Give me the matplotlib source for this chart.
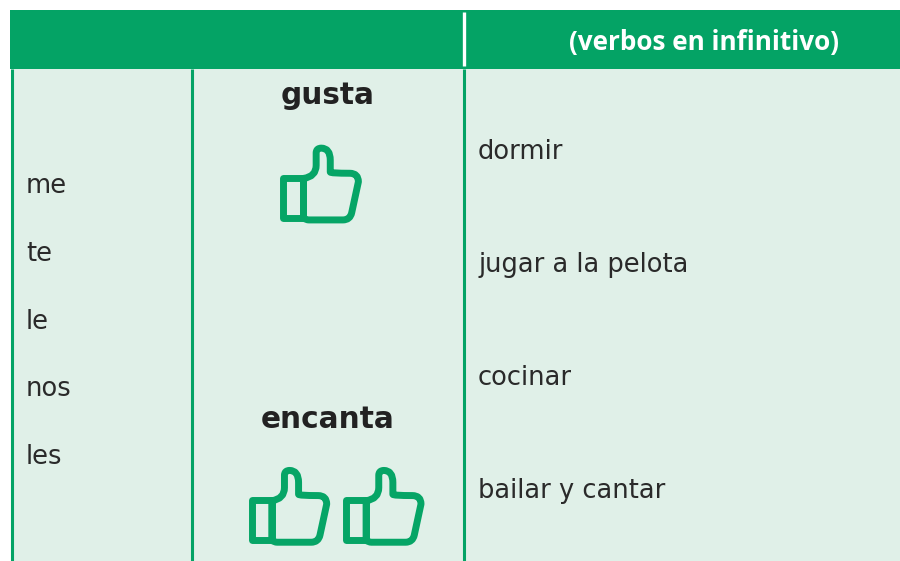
import matplotlib
matplotlib.use("Agg")
import matplotlib.pyplot as plt
from matplotlib.patches import Rectangle, PathPatch
from matplotlib.path import Path
from matplotlib.transforms import Affine2D

pronouns = ["me", "te", "le", "nos", "les"]
verbs_forms = ["gusta", "encanta"]
infinitives = ["dormir", "jugar a la pelota", "cocinar", "bailar y cantar"]
header = "(verbos en infinitivo)"

GREEN = "#04A365"
BODY = "#E0F0E8"
ICON = "#06A566"
INK = "#2A2A2A"

fig = plt.figure(figsize=(9, 5.61), dpi=100)
ax = fig.add_axes([0, 0, 1, 1])
ax.set_xlim(0, 900)
ax.set_ylim(561, 0)
ax.axis("off")

ax.add_patch(Rectangle((11, 69), 889, 492, fc=BODY, ec="none"))
ax.add_patch(Rectangle((10, 10), 890, 59, fc=GREEN, ec="none"))
for x in (12, 192, 464):
    ax.plot([x, x], [69, 561], color=GREEN, lw=2.2, solid_capstyle="butt")
ax.plot([464, 464], [12, 66], color="white", lw=2.4, solid_capstyle="butt")

ax.text(569, 50, header, color="white", fontsize=18.8, fontweight="bold",
        family="Open Sans", va="baseline", ha="left")

for label, y in zip(pronouns, (193, 261, 329, 396, 464)):
    ax.text(26, y, label, color=INK, fontsize=18.5, family="DejaVu Sans", va="baseline")
for label, y in zip(infinitives, (159, 272, 385, 498)):
    ax.text(478, y, label, color=INK, fontsize=18.5, family="DejaVu Sans", va="baseline")
for label, y in zip(verbs_forms, (104, 428)):
    ax.text(328, y, label, color="#222222", fontsize=21.3, family="DejaVu Sans",
            fontweight="bold", ha="center", va="baseline")

C3 = Path.CURVE3
M, L, Z = Path.MOVETO, Path.LINETO, Path.CLOSEPOLY
# Icon outlines, in local units with the origin at the sleeve's top-left
sleeve = Path([(0, 0), (19.5, 0), (19.5, 39), (0, 39), (0, 0)], [M, L, L, L, Z])
hand = Path(
    [(19.7, 0.7), (32, -1), (32, -12), (32, -24), (32, -28.7), (37, -28.7), (45.7, -28.7),
     (45.7, -17), (45.7, -5.5), (45.7, -4.3), (64.7, -4.3), (73, -4.3), (73, 4), (66.5, 34),
     (65, 41), (58, 41), (25, 41), (22, 41), (19.7, 39), (19.7, 0.7)],
    [M, C3, C3, L, C3, C3, C3, C3, L, C3, L, C3, C3, L, C3, C3, L, C3, C3, Z],
)


def thumb(x, y):
    tr = Affine2D().scale(1.03).translate(x, y) + ax.transData
    for p in (sleeve, hand):
        ax.add_patch(PathPatch(p, fc="none", ec=ICON, lw=5.0, joinstyle="round", transform=tr))


thumb(283.2, 177.7)
thumb(251.5, 500)
thumb(345.8, 500)

fig.savefig("out.png", dpi=100, facecolor="white")
